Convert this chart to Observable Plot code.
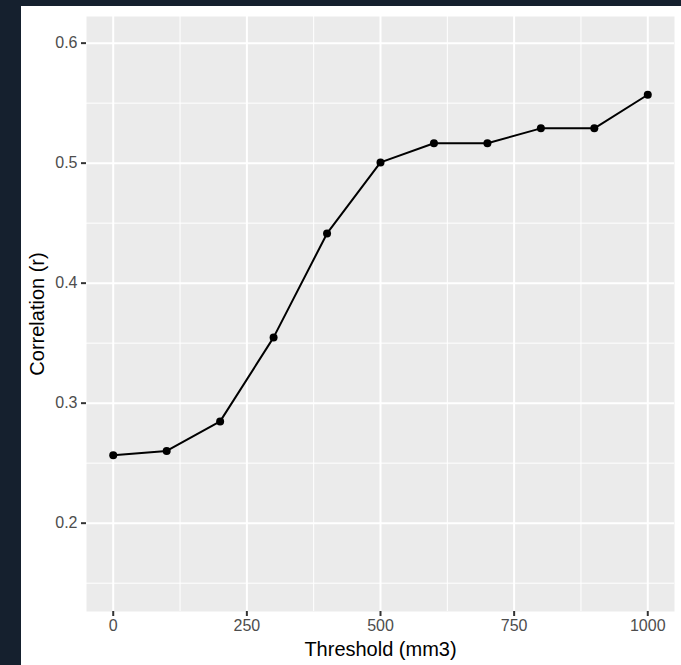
<!DOCTYPE html>
<html>
<head>
<meta charset="utf-8">
<script src="https://cdn.jsdelivr.net/npm/d3@7"></script>
<script src="https://cdn.jsdelivr.net/npm/@observablehq/plot@0.6"></script>
<style>
  html, body { margin: 0; padding: 0; background: #15202e; }
  #chart { position: absolute; left: 21px; top: 6px; }
  #chart svg { display: block; }
  #chart svg text { font-size: 16px !important; fill: #4d4d4d; }
  #chart svg g[aria-label="x-axis label"] text, #chart svg g[aria-label="y-axis label"] text { font-size: 20px !important; fill: #000000; }
</style>
</head>
<body>
<div id="chart"></div>
<script>
// Data
const thresholds = [0, 100, 200, 300, 400, 500, 600, 700, 800, 900, 1000];
const correlations = [0.2565, 0.2602, 0.2848, 0.3548, 0.4414, 0.5006, 0.5166, 0.5166, 0.5290, 0.5290, 0.5570];

// Axis ticks
const xMajorTicks = [0, 250, 500, 750, 1000];
const xMinorTicks = [125, 375, 625, 875];
const yMajorTicks = [0.2, 0.3, 0.4, 0.5, 0.6];
const yMinorTicks = [0.15, 0.25, 0.35, 0.45, 0.55];

const data = thresholds.map((t, i) => ({threshold: t, r: correlations[i]}));

const chart = Plot.plot({
  width: 660,
  height: 659,
  marginLeft: 65,
  marginTop: 10,
  marginRight: 7,
  marginBottom: 54,
  style: {
    background: "#ffffff",
    fontFamily: "'Liberation Sans', Arial, Helvetica, sans-serif",
    fontSize: "16px",
    overflow: "visible"
  },
  x: {domain: [-50, 1050]},
  y: {domain: [0.1264, 0.6222]},
  marks: [
    Plot.frame({fill: "#ebebeb", stroke: null}),
    Plot.gridX(xMinorTicks, {stroke: "#ffffff", strokeOpacity: 1, strokeWidth: 1}),
    Plot.gridY(yMinorTicks, {stroke: "#ffffff", strokeOpacity: 1, strokeWidth: 1}),
    Plot.gridX(xMajorTicks, {stroke: "#ffffff", strokeOpacity: 1, strokeWidth: 2}),
    Plot.gridY(yMajorTicks, {stroke: "#ffffff", strokeOpacity: 1, strokeWidth: 2}),
    Plot.axisX(xMajorTicks, {
      tickSize: 5, tickPadding: 3, stroke: "#333333", strokeWidth: 2,
      fill: "#4d4d4d", fontSize: 16, tickFormat: d3.format("d"),
      label: "Threshold (mm3)", labelAnchor: "center", labelArrow: "none", labelOffset: 44
    }),
    Plot.axisY(yMajorTicks, {
      tickSize: 5, tickPadding: 4, stroke: "#333333", strokeWidth: 2,
      fill: "#4d4d4d", fontSize: 16, tickFormat: d3.format(".1f"),
      label: "Correlation (r)", labelAnchor: "center", labelArrow: "none", labelOffset: 57
    }),
    Plot.line(data, {x: "threshold", y: "r", stroke: "#000000", strokeWidth: 2}),
    Plot.dot(data, {x: "threshold", y: "r", r: 4, fill: "#000000", stroke: null})
  ]
});

document.getElementById("chart").appendChild(chart);
</script>
</body>
</html>
